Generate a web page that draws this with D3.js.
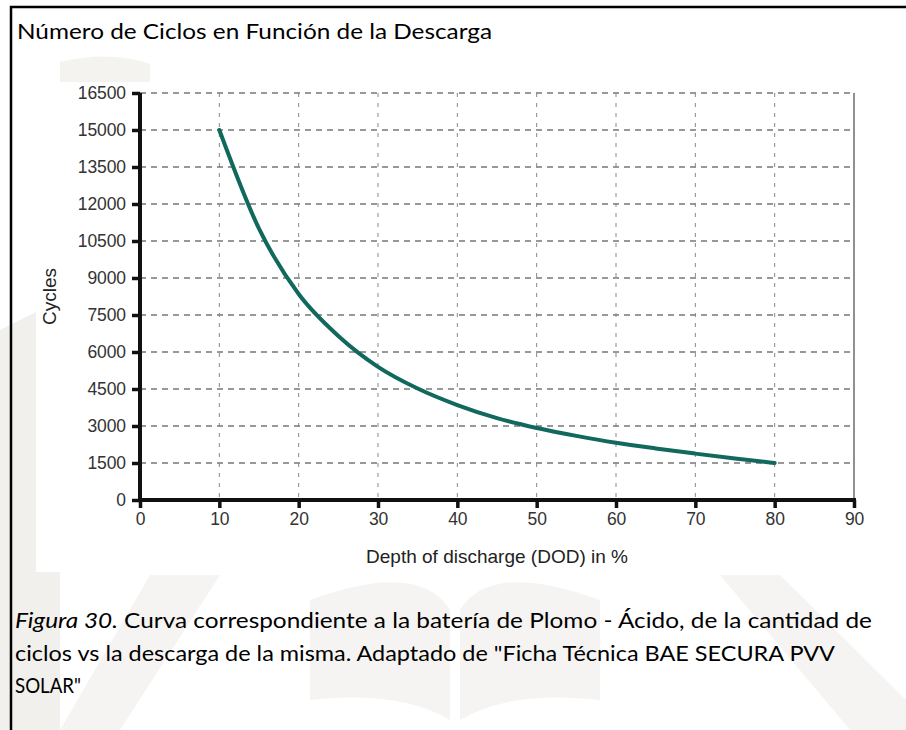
<!DOCTYPE html>
<html>
<head>
<meta charset="utf-8">
<script src="https://cdn.jsdelivr.net/npm/d3@7"></script>
<style>
  body { margin: 0; background: #fff; }
  #svg-container { width: 906px; height: 730px; }
  .tick text { font-family: "Liberation Sans", Arial, sans-serif; font-size: 17.5px; fill: #333; letter-spacing: -0.1px; }
  .unit { font-family: "Liberation Sans", Arial, sans-serif; font-size: 19px; fill: #222; }
  .doc { font-family: Lato, "Open Sans", sans-serif; font-size: 21px; fill: #000; }
</style>
</head>
<body>
<div id="svg-container"></div>
<script>
// data
const dod = [10, 15, 20, 25, 30, 35, 40, 45, 50, 55, 60, 65, 70, 75, 80];
const cycles = [15000, 11000, 8350, 6650, 5400, 4520, 3850, 3320, 2920, 2600, 2320, 2090, 1880, 1680, 1500];
const yTicks = [0, 1500, 3000, 4500, 6000, 7500, 9000, 10500, 12000, 13500, 15000, 16500];
const xTicks = [0, 10, 20, 30, 40, 50, 60, 70, 80, 90];

const title = "Número de Ciclos en Función de la Descarga";
const captionLines = [
  ["Figura 30.", " Curva correspondiente a la batería de Plomo - Ácido, de la cantidad de"],
  ["", "ciclos vs la descarga de la misma. Adaptado de \"Ficha Técnica BAE SECURA PVV"],
  ["", "SOLAR\""]
];

const width = 906, height = 730;
const margin = { top: 93, right: 52, bottom: 230, left: 140 };

const svg = d3.select("#svg-container").append("svg")
  .attr("width", width).attr("height", height);

// faint watermark behind the figure
const wm = svg.append("g").attr("fill", "#f1f0ec");
wm.append("path").attr("d", "M0,330 L60,300 L60,730 L0,730 Z");
wm.append("path").attr("d", "M60,62 Q110,50 150,64 L150,82 L60,82 Z").attr("opacity", 0.8);
wm.append("path").attr("d", "M310,600 Q420,560 450,610 L450,720 Q400,690 310,700 Z").attr("opacity", 0.7);
wm.append("path").attr("d", "M600,600 Q490,560 460,610 L460,720 Q510,690 600,700 Z").attr("opacity", 0.7);
wm.append("path").attr("d", "M720,575 L780,575 L906,700 L906,730 L850,730 Z").attr("opacity", 0.7);
wm.append("path").attr("d", "M150,575 L220,575 L120,730 L60,730 Z").attr("opacity", 0.7);

// document frame
svg.append("path")
  .attr("d", `M11,${height} L11,7 L${width},7`)
  .attr("fill", "none").attr("stroke", "#000").attr("stroke-width", 2.5);

svg.append("text").attr("class", "doc")
  .attr("x", 17).attr("y", 39)
  .attr("textLength", 475).attr("lengthAdjust", "spacingAndGlyphs")
  .text(title);

// chart picture (white)
svg.append("rect").attr("x", 36).attr("y", 82).attr("width", 834).attr("height", 490).attr("fill", "#fff");

// scales
const xScale = d3.scaleLinear().domain([0, 90]).range([margin.left, width - margin.right]);
const yScale = d3.scaleLinear().domain([0, 16500]).range([height - margin.bottom, margin.top]);

// grid
svg.append("g").selectAll("line").data(yTicks.slice(1)).join("line")
  .attr("x1", xScale(0)).attr("x2", xScale(90))
  .attr("y1", d => yScale(d)).attr("y2", d => yScale(d))
  .attr("stroke", "#777").attr("stroke-width", 1.3).attr("stroke-dasharray", "6,5");

svg.append("g").selectAll("line").data(xTicks.slice(1, -1)).join("line")
  .attr("x1", d => xScale(d)).attr("x2", d => xScale(d))
  .attr("y1", yScale(16500)).attr("y2", yScale(0))
  .attr("stroke", "#888").attr("stroke-width", 1).attr("stroke-dasharray", "4,6");

// right border
svg.append("line")
  .attr("x1", xScale(90)).attr("x2", xScale(90))
  .attr("y1", yScale(16500)).attr("y2", yScale(0))
  .attr("stroke", "#555").attr("stroke-width", 1.3);

// axes
const xAxis = d3.axisBottom(xScale).tickValues(xTicks).tickSize(8).tickPadding(5).tickFormat(d3.format("d"));
const yAxis = d3.axisLeft(yScale).tickValues(yTicks).tickSize(8).tickPadding(6).tickFormat(d3.format("d"));

const gx = svg.append("g").attr("class", "x-axis")
  .attr("transform", `translate(0,${yScale(0)})`).call(xAxis);
const gy = svg.append("g").attr("class", "y-axis")
  .attr("transform", `translate(${xScale(0)},0)`).call(yAxis);

[gx, gy].forEach(g => {
  g.select(".domain").attr("stroke", "#111").attr("stroke-width", 4);
  g.selectAll(".tick line").attr("stroke", "#111").attr("stroke-width", 3.5);
});
gx.select(".domain").attr("d", `M${xScale(0) - 2},0H${xScale(90) + 2}`);
gy.select(".domain").attr("d", `M0,${yScale(16500)}V${yScale(0) + 2}`);

// curve
const line = d3.line()
  .x((d, i) => xScale(dod[i]))
  .y(d => yScale(d))
  .curve(d3.curveMonotoneX);

svg.append("path")
  .datum(cycles)
  .attr("d", line)
  .attr("fill", "none")
  .attr("stroke", "#10695c")
  .attr("stroke-width", 4)
  .attr("stroke-linecap", "round");

// units
svg.append("text").attr("class", "unit")
  .attr("text-anchor", "middle")
  .attr("transform", `translate(${(xScale(0) + xScale(90)) / 2},563)`)
  .text("Depth of discharge (DOD) in %");

svg.append("text").attr("class", "unit")
  .attr("text-anchor", "middle")
  .attr("font-size", 18.5)
  .attr("transform", `translate(56,${(yScale(0) + yScale(16500)) / 2}) rotate(-90)`)
  .text("Cycles");

// caption
const capWidths = [857, 820, 66];
captionLines.forEach((parts, i) => {
  const t = svg.append("text").attr("class", "doc")
    .attr("x", 15).attr("y", 628 + i * 32.5)
    .attr("textLength", capWidths[i]).attr("lengthAdjust", "spacingAndGlyphs");
  if (parts[0]) t.append("tspan").attr("font-style", "italic").text(parts[0]);
  t.append("tspan").text(parts[1]);
});
</script>
</body>
</html>
